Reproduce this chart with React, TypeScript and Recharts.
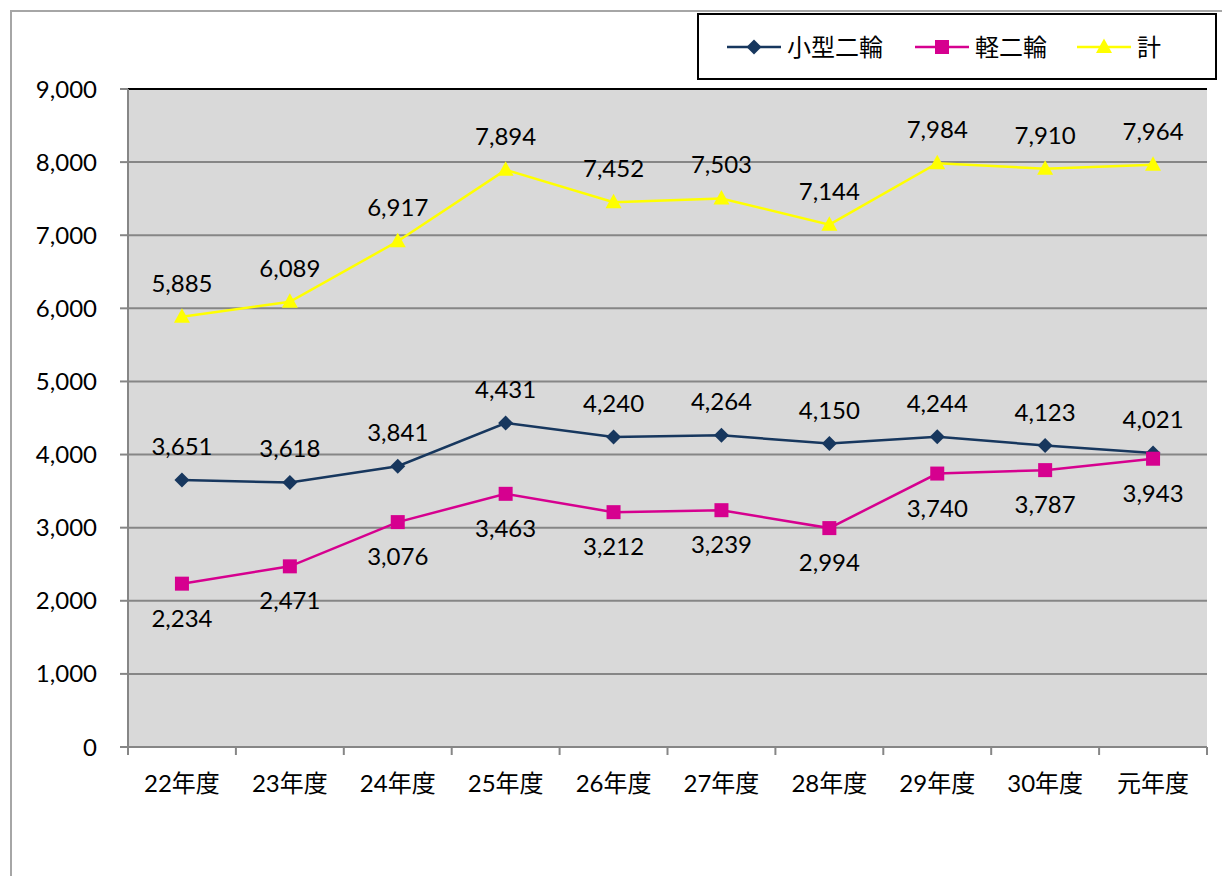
import React from "react";
import { CartesianGrid, LabelList, Legend, Line, LineChart, ReferenceLine, XAxis, YAxis } from "recharts";

const years = ["22年度", "23年度", "24年度", "25年度", "26年度", "27年度", "28年度", "29年度", "30年度", "元年度"];
const kogata = [3651, 3618, 3841, 4431, 4240, 4264, 4150, 4244, 4123, 4021];
const kei = [2234, 2471, 3076, 3463, 3212, 3239, 2994, 3740, 3787, 3943];
const total = [5885, 6089, 6917, 7894, 7452, 7503, 7144, 7984, 7910, 7964];
const yTicks = [0, 1000, 2000, 3000, 4000, 5000, 6000, 7000, 8000, 9000];

const data = years.map((year, i) => ({ year, kogata: kogata[i], kei: kei[i], total: total[i] }));

const W = 1222;
const H = 876;
const PLOT = { left: 128, top: 89, right: 1207, bottom: 747 };
const BAND = (PLOT.right - PLOT.left) / years.length;
const FONT = "Lato, 'Noto Sans CJK JP', sans-serif";
const GRID = "#868686";

const NAVY = "#17375e";
const MAGENTA = "#d6008f";
const YELLOW = "#ffff00";

type Shape = "diamond" | "square" | "triangle";

function Marker({ cx, cy, shape, color }: { cx: number; cy: number; shape: Shape; color: string }) {
  if (shape === "diamond") {
    return <polygon points={`${cx},${cy - 7.5} ${cx + 7.5},${cy} ${cx},${cy + 7.5} ${cx - 7.5},${cy}`} fill={color} />;
  }
  if (shape === "square") {
    return <rect x={cx - 7} y={cy - 7} width={14} height={14} fill={color} />;
  }
  return <polygon points={`${cx},${cy - 8.5} ${cx + 8},${cy + 6} ${cx - 8},${cy + 6}`} fill={color} />;
}

const series = [
  { key: "kogata", name: "小型二輪", color: NAVY, shape: "diamond" as Shape, pos: "top" as const, offset: 25 },
  { key: "kei", name: "軽二輪", color: MAGENTA, shape: "square" as Shape, pos: "bottom" as const, offset: 26 },
  { key: "total", name: "計", color: YELLOW, shape: "triangle" as Shape, pos: "top" as const, offset: 25 },
];

const fmt = (v: any) => Number(v).toLocaleString("en-US");

function XTick(props: any) {
  const { x, y, payload, index } = props;
  return (
    <g>
      <line x1={x - BAND / 2} x2={x - BAND / 2} y1={y} y2={y + 8} stroke={GRID} strokeWidth={2} />
      {index === years.length - 1 && (
        <line x1={x + BAND / 2} x2={x + BAND / 2} y1={y} y2={y + 8} stroke={GRID} strokeWidth={2} />
      )}
      <text x={x} y={y + 45} textAnchor="middle" fill="#000" fontSize={24} fontFamily={FONT}>
        {payload.value}
      </text>
    </g>
  );
}

function LegendBox() {
  return (
    <div
      style={{
        width: 488,
        height: 63,
        border: "2px solid #000",
        background: "#fff",
        display: "flex",
        alignItems: "center",
        paddingLeft: 28,
        boxSizing: "content-box",
        fontFamily: FONT,
        fontSize: 24,
        color: "#000",
      }}
    >
      {series.map((s, i) => (
        <div key={s.key} style={{ display: "flex", alignItems: "center", marginRight: i === 0 ? 32 : 30 }}>
          <svg width={54} height={20}>
            <line x1={0} x2={54} y1={10} y2={10} stroke={s.color} strokeWidth={2.5} />
            <Marker cx={27} cy={10} shape={s.shape} color={s.color} />
          </svg>
          <span style={{ marginLeft: 6, lineHeight: "24px" }}>{s.name}</span>
        </div>
      ))}
    </div>
  );
}

export default function App() {
  return (
    <div style={{ position: "absolute", left: 0, top: 0, width: W, height: H, background: "#fff", overflow: "hidden" }}>
      <div
        style={{
          position: "absolute",
          left: 10,
          top: 10,
          right: 0,
          bottom: 0,
          borderLeft: "2px solid #a6a6a6",
          borderTop: "2px solid #a6a6a6",
        }}
      />
      <div style={{ position: "absolute", left: 0, top: 0 }}>
        <LineChart
          width={W}
          height={H}
          data={data}
          margin={{ top: PLOT.top, right: W - PLOT.right, bottom: H - PLOT.bottom - 40, left: PLOT.left - 80 }}
        >
          <CartesianGrid vertical={false} fill="#d9d9d9" stroke={GRID} strokeWidth={2} />
          <XAxis
            dataKey="year"
            scale="band"
            height={40}
            tickSize={0}
            tickMargin={0}
            tickLine={false}
            axisLine={{ stroke: GRID, strokeWidth: 2 }}
            tick={<XTick />}
            interval={0}
          />
          <YAxis
            width={80}
            domain={[0, 9000]}
            ticks={yTicks}
            tickFormatter={fmt}
            tickSize={8}
            tickMargin={23}
            tickLine={{ stroke: GRID, strokeWidth: 2 }}
            axisLine={{ stroke: GRID, strokeWidth: 2 }}
            tick={{ fill: "#000", fontSize: 24, fontFamily: FONT }}
          />
          <YAxis
            yAxisId="r"
            orientation="right"
            width={0}
            domain={[0, 9000]}
            tick={false}
            tickLine={false}
            axisLine={{ stroke: "#000", strokeWidth: 2 }}
          />
          <ReferenceLine y={9000} stroke="#000" strokeWidth={2} />
          <Legend
            layout="horizontal"
            verticalAlign="middle"
            align="center"
            content={<LegendBox />}
            wrapperStyle={{ left: 697, top: 13, width: 492, height: 67 }}
          />
          {series.map((s) => (
            <Line
              key={s.key}
              dataKey={s.key}
              name={s.name}
              type="linear"
              stroke={s.color}
              strokeWidth={2.5}
              isAnimationActive={false}
              dot={(p: any) => <Marker key={`${s.key}-${p.index}`} cx={p.cx} cy={p.cy} shape={s.shape} color={s.color} />}
              activeDot={false}
            >
              <LabelList
                dataKey={s.key}
                position={s.pos}
                offset={s.offset}
                formatter={fmt}
                fill="#000"
                fontSize={24}
                fontFamily={FONT}
              />
            </Line>
          ))}
        </LineChart>
      </div>
    </div>
  );
}
